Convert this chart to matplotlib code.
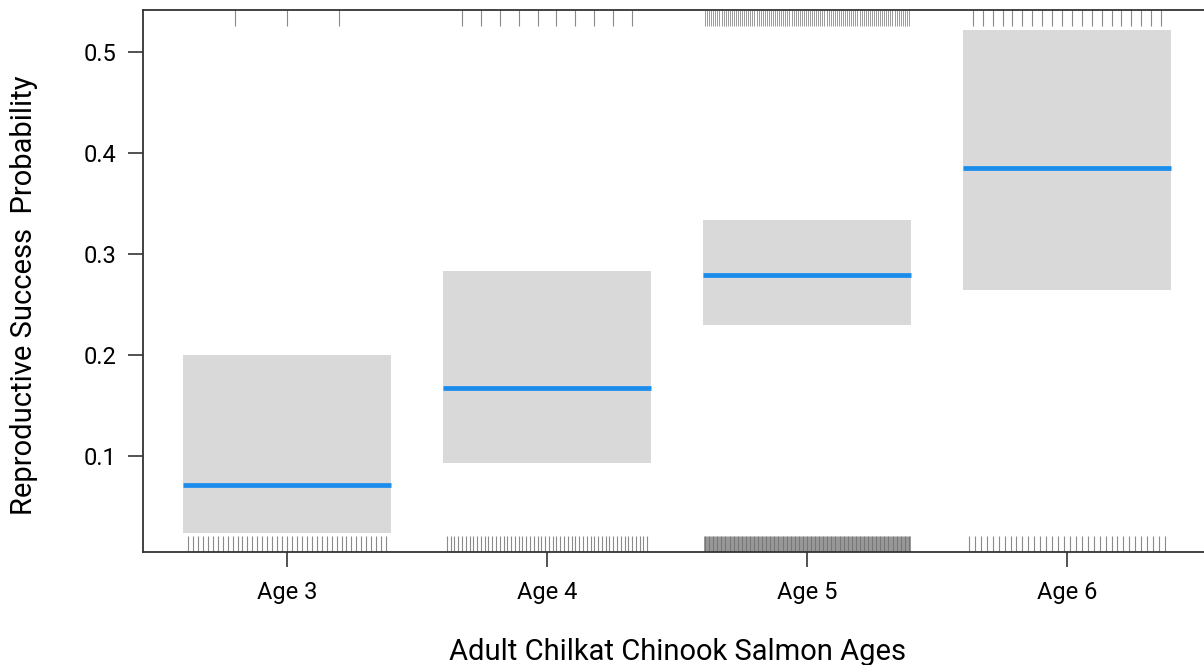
import numpy as np
from matplotlib import pyplot as plt

plt.rcParams["font.family"] = ["Roboto", "DejaVu Sans"]

ages = ["Age 3", "Age 4", "Age 5", "Age 6"]
fit = [0.0713, 0.167, 0.279, 0.385]
lower = [0.024, 0.093, 0.230, 0.264]
upper = [0.200, 0.283, 0.334, 0.522]
# number of fish in each age group that did / did not reproduce (rug marks)
n_success = [3, 10, 100, 20]
n_fail = [41, 54, 258, 34]

half = 0.4
x = np.arange(1, len(ages) + 1)

fig = plt.figure(figsize=(12.04, 6.65), dpi=100)
ax = fig.add_axes([0.1188, 0.1699, 0.887, 0.815])

for i in range(len(ages)):
    ax.fill_between([x[i] - half, x[i] + half], lower[i], upper[i],
                    color="#d9d9d9", linewidth=0)
    ax.plot([x[i] - half, x[i] + half], [fit[i], fit[i]],
            color="#1a8cec", lw=3.4, solid_capstyle="butt")

    # rugs: successes along the top, failures along the bottom
    pos_top = x[i] - half + 2 * half * np.arange(1, n_success[i] + 1) / (n_success[i] + 1)
    pos_bot = x[i] - half + 2 * half * np.arange(1, n_fail[i] + 1) / (n_fail[i] + 1)
    lw = 0.5 if n_fail[i] > 100 else 0.8
    ax.vlines(pos_top, 0.97, 1.0, transform=ax.get_xaxis_transform(),
              color="#8a8a8a", lw=0.6 if n_success[i] > 50 else 0.8)
    ax.vlines(pos_bot, 0.0, 0.03, transform=ax.get_xaxis_transform(),
              color="#6a6a6a" if n_fail[i] > 100 else "#8a8a8a", lw=lw)

ax.set_xlim(0.446, 4.554)
ax.set_ylim(0.005, 0.5416)
ax.set_xticks(x)
ax.set_xticklabels(ages)
ax.set_yticks([0.1, 0.2, 0.3, 0.4, 0.5])
ax.tick_params(axis="both", labelsize=17, length=11, width=1.2,
               color="#333333")
ax.tick_params(axis="x", pad=10)
ax.tick_params(axis="y", pad=8)

for s in ax.spines.values():
    s.set_color("#333333")
    s.set_linewidth(1.3)

ax.set_xlabel("Adult Chilkat Chinook Salmon Ages", fontsize=21, labelpad=24)
ax.set_ylabel("Reproductive Success  Probability", fontsize=21)
ax.yaxis.set_label_coords(-0.098, 0.474)

plt.savefig("out.png", dpi=100)
